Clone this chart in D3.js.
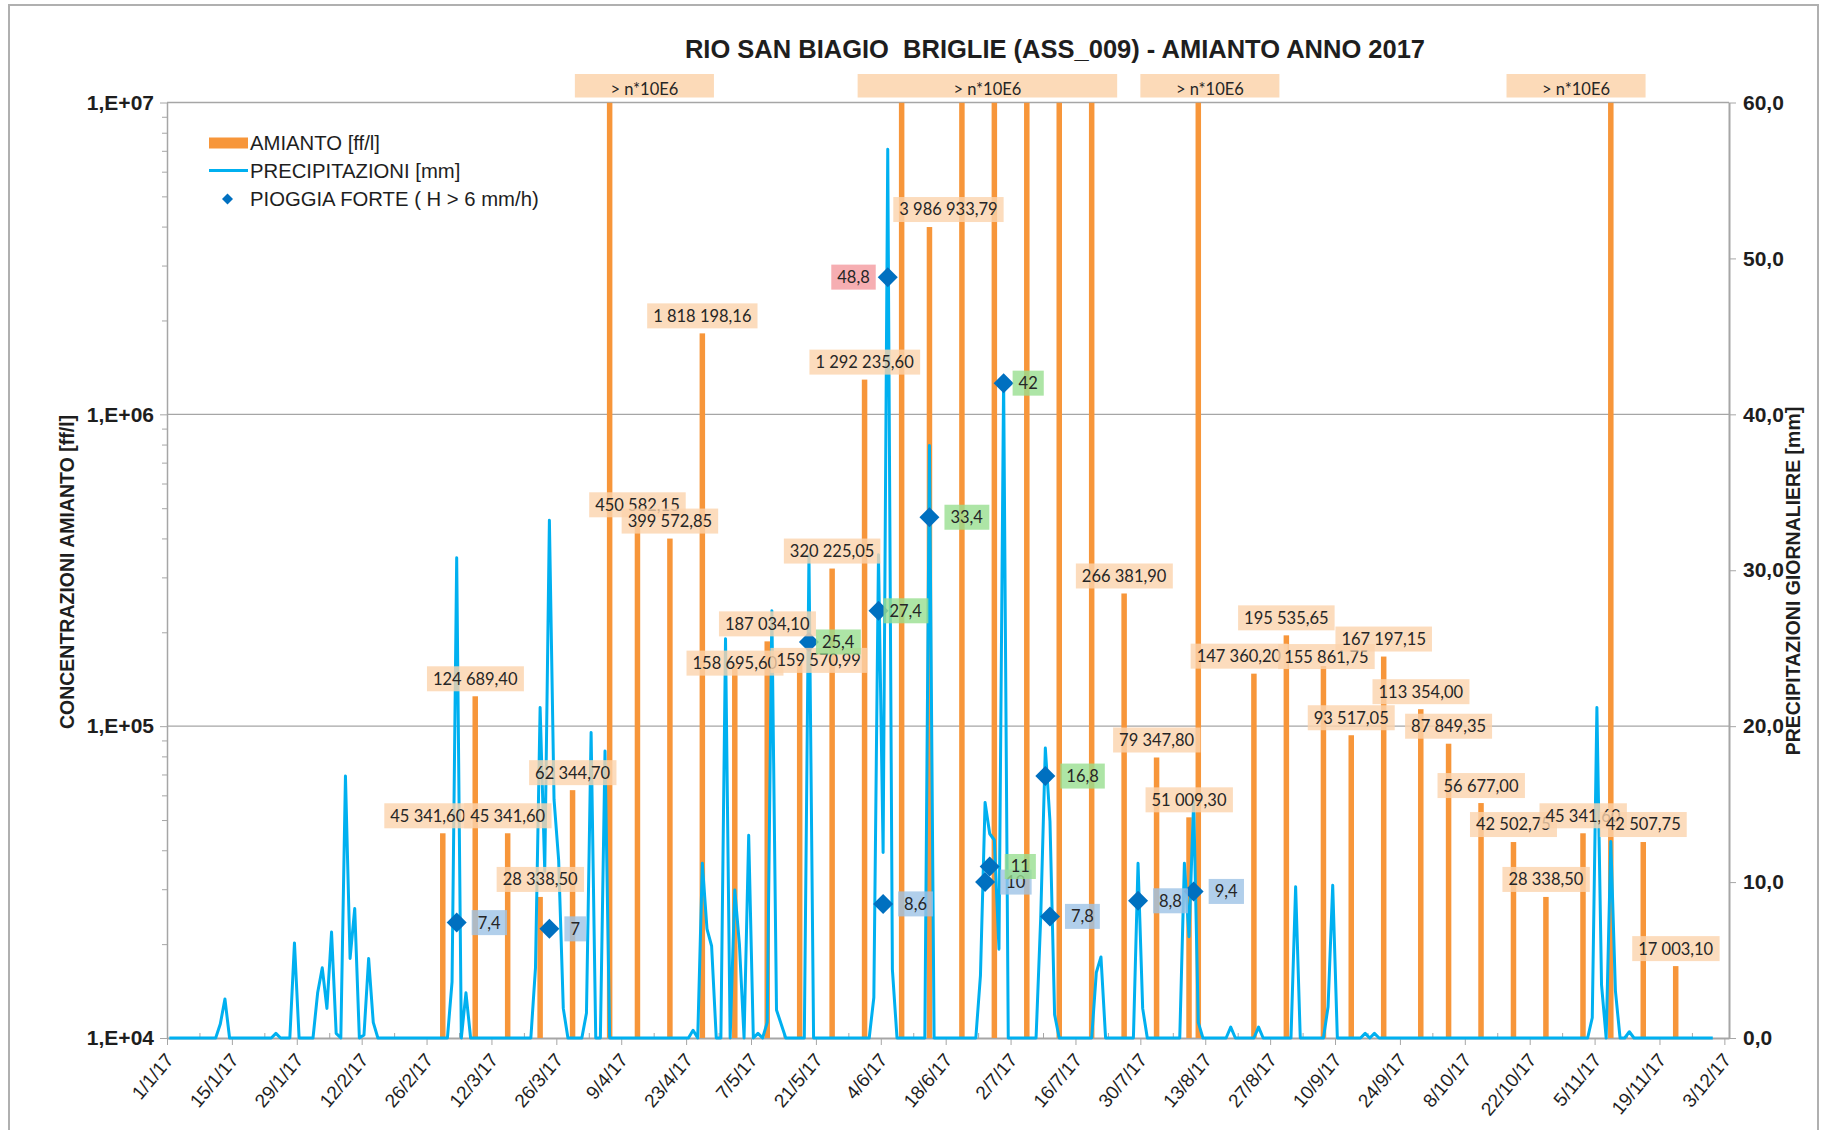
<!DOCTYPE html>
<html>
<head>
<meta charset="utf-8">
<script src="https://cdn.jsdelivr.net/npm/d3@7"></script>
<style>
  html, body { margin: 0; padding: 0; background: #fff; }
  svg { display: block; }
  .axis path, .axis line { stroke: #a6a6a6; }
</style>
</head>
<body>
<svg id="chart" width="1822" height="1130"></svg>
<script>
// ---------- data ----------
// weekly asbestos samples [ff/l]
const sampleDates = [
  "2017-03-01", "2017-03-08", "2017-03-15", "2017-03-22", "2017-03-29",
  "2017-04-12", "2017-04-19", "2017-04-26", "2017-05-03", "2017-05-10",
  "2017-05-17", "2017-05-24", "2017-05-31", "2017-06-14", "2017-07-26",
  "2017-08-02", "2017-08-09", "2017-08-23", "2017-08-30", "2017-09-07",
  "2017-09-13", "2017-09-20", "2017-09-28", "2017-10-04", "2017-10-11",
  "2017-10-18", "2017-10-25", "2017-11-02", "2017-11-15", "2017-11-22"
];
const amiantoValues = [
  45341.60, 124689.40, 45341.60, 28338.50, 62344.70,
  450582.15, 399572.85, 1818198.16, 158695.60, 187034.10,
  159570.99, 320225.05, 1292235.60, 3986933.79, 266381.90,
  79347.80, 51009.30, 147360.20, 195535.65, 155861.75,
  93517.05, 167197.15, 113354.00, 87849.35, 56677.00,
  42502.75, 28338.50, 45341.60, 42507.75, 17003.10
];
// samples above the top of the scale (> n*10E6)
const overLimitDates = [
  "2017-04-06", "2017-06-08", "2017-06-21", "2017-06-28", "2017-07-05",
  "2017-07-12", "2017-07-19", "2017-08-11", "2017-11-08"
];
const overLimitText = "> n*10E6";

// daily rainfall [mm], one value per day from rainStart
const rainStart = "2017-01-01";
const rainValues = [
  0, 0, 0, 0, 0, 0, 0, 0, 0, 0,
  0, 0.9, 2.5, 0, 0, 0, 0, 0, 0, 0,
  0, 0, 0, 0.3, 0, 0, 0, 6.1, 0, 0,
  0, 0, 2.9, 4.5, 1.9, 6.8, 0.3, 0, 16.8, 5.1,
  8.3, 0, 0.2, 5.1, 1.0, 0, 0, 0, 0, 0,
  0, 0, 0, 0, 0, 0, 0, 0, 0, 0,
  0, 3.6, 30.8, 0, 2.9, 0, 0, 0, 0, 0,
  0, 0, 0, 0, 0, 0, 0, 0, 0, 4.5,
  21.2, 10.7, 33.2, 15.3, 11.4, 1.9, 0, 0, 0, 0,
  1.6, 19.6, 0, 0, 18.4, 0, 0, 0, 0, 0,
  0, 0, 0, 0, 0, 0, 0, 0, 0, 0,
  0, 0, 0, 0.5, 0, 11.2, 7.0, 5.9, 0, 0,
  25.6, 0, 9.5, 6.0, 0, 13.0, 0, 0.3, 0, 1.0,
  27.4, 1.8, 0.9, 0, 0, 0, 0, 0, 31.0, 0,
  0, 0, 0, 0, 0, 0, 0, 0, 0, 0,
  0, 0, 2.6, 31.0, 11.9, 57.0, 4.4, 0, 0, 0,
  0, 0, 0, 0, 38.0, 0, 0, 0, 0, 0,
  0, 0, 0, 0, 0, 4.0, 15.1, 13.1, 12.7, 5.7,
  42.3, 0, 0, 0, 0, 0, 0, 0, 7.7, 18.6,
  13.9, 1.5, 0, 0, 0, 0, 0, 0, 0, 0,
  4.2, 5.2, 0, 0, 0, 0, 0, 0, 0, 11.2,
  1.9, 0, 0, 0, 0, 0, 0, 0, 0, 11.2,
  6.5, 15.2, 1.0, 0, 0, 0, 0, 0, 0, 0.7,
  0, 0, 0, 0, 0, 0.7, 0, 0, 0, 0,
  0, 0, 0, 9.7, 0, 0, 0, 0, 0, 0,
  2.0, 9.8, 0, 0, 0, 0, 0, 0, 0.3, 0,
  0.3, 0, 0, 0, 0, 0, 0, 0, 0, 0,
  0, 0, 0, 0, 0, 0, 0, 0, 0, 0,
  0, 0, 0, 0, 0, 0, 0, 0, 0, 0,
  0, 0, 0, 0, 0, 0, 0, 0, 0, 0,
  0, 0, 0, 0, 0, 0, 0, 1.3, 21.2, 3.4,
  0, 12.6, 3.0, 0, 0, 0.4, 0, 0, 0, 0,
  0, 0, 0, 0, 0, 0, 0, 0, 0, 0,
  0, 0, 0, 0
];

// heavy rain events (H > 6 mm/h)
const stormDates = [
  "2017-03-04", "2017-03-24", "2017-05-19", "2017-06-03", "2017-06-04",
  "2017-06-05", "2017-06-14", "2017-06-26", "2017-06-27", "2017-06-30",
  "2017-07-09", "2017-07-10", "2017-07-29", "2017-08-10"
];
const stormValues = [7.4, 7, 25.4, 27.4, 8.6, 48.8, 33.4, 10, 11, 42, 16.8, 7.8, 8.8, 9.4];

// axes
const xDomain = ["2017-01-01", "2017-12-04"];
const xTickStepDays = 14;
const xMinorStepDays = 7;
const yLeftTicks = [1e4, 1e5, 1e6, 1e7];
const yRightTicks = [0, 10, 20, 30, 40, 50, 60];

const titleText = "RIO SAN BIAGIO  BRIGLIE (ASS_009) - AMIANTO ANNO 2017";
const leftTitle = "CONCENTRAZIONI AMIANTO [ff/l]";
const rightTitle = "PRECIPITAZIONI GIORNALIERE [mm]";
const legendLabels = ["AMIANTO [ff/l]", "PRECIPITAZIONI [mm]", "PIOGGIA FORTE ( H > 6 mm/h)"];

// ---------- layout ----------
const plot = { left: 167, right: 1729, top: 102.5, bottom: 1038 };
const colors = {
  bar: "#F7963A", rain: "#00B0F0", storm: "#0070C0",
  grid: "#a6a6a6", text: "#1e1e1e",
  barTag: "#FBD3AC", blueTag: "#9DC3E6", greenTag: "#98DE90", redTag: "#F5A0A5"
};
// hand-placed label offsets (px) where labels would collide
const barTagNudge = {
  "2017-03-01": [-15, 0], "2017-05-03": [0, 17], "2017-05-17": [19, 15],
  "2017-06-14": [19, 0], "2017-08-23": [-15, 0], "2017-09-07": [3, 8]
};
const stormTagNudge = {
  "2017-06-05": "left", "2017-05-19": 7, "2017-06-03": 5, "2017-06-30": 9
};
// spans of the "> n*10E6" notes above the plot
const overNoteSpans = [
  ["2017-03-30", "2017-04-29"], ["2017-05-30", "2017-07-25"],
  ["2017-07-30", "2017-08-29"], ["2017-10-17", "2017-11-16"]
];

// ---------- scales ----------
const parse = d3.utcParse("%Y-%m-%d");
const DAY = 864e5;
const x = d3.scaleUtc().domain(xDomain.map(parse)).range([plot.left, plot.right]);
const xMid = d => x(new Date(d.getTime() + DAY / 2));
const yL = d3.scaleLog().domain([1e4, 1e7]).range([plot.bottom, plot.top]);
const yR = d3.scaleLinear().domain([0, 60]).range([plot.bottom, plot.top]);

const it = d3.formatLocale({ decimal: ",", thousands: " ", grouping: [3], currency: ["", " €"] });
const fmtBar = it.format(",.2f");
const fmtRight = it.format(".1f");
const fmtRain = it.format("~g");
const fmtDate = d3.utcFormat("%-d/%-m/%y");
const fmtLog = v => "1,E+" + String(Math.round(Math.log10(v))).padStart(2, "0");

const svg = d3.select("#chart");
const sans = "'Liberation Sans', Arial, sans-serif";

// outer frame
svg.append("rect")
  .attr("x", 9).attr("y", 5).attr("width", 1809).attr("height", 1160)
  .attr("fill", "#fff").attr("stroke", "#b0b0b0").attr("stroke-width", 2);

// title
svg.append("text")
  .attr("x", 1055).attr("y", 58).attr("text-anchor", "middle")
  .style("font-family", sans).style("white-space", "pre")
  .style("font-weight", "bold").style("font-size", "25.5px")
  .attr("fill", colors.text).text(titleText);

// clip for marks
svg.append("clipPath").attr("id", "plotClip").append("rect")
  .attr("x", plot.left).attr("y", plot.top)
  .attr("width", plot.right - plot.left).attr("height", plot.bottom - plot.top);

// horizontal gridlines
svg.append("g").selectAll("line").data(yLeftTicks.slice(1)).join("line")
  .attr("x1", plot.left).attr("x2", plot.right)
  .attr("y1", d => yL(d)).attr("y2", d => yL(d))
  .attr("stroke", colors.grid).attr("stroke-width", 1.3);

// left axis (log) with minor ticks
const minorLog = [];
for (let e = 4; e < 7; e++) for (let m = 2; m <= 9; m++) minorLog.push(m * Math.pow(10, e));
const axisFont = g => g.selectAll("text")
  .style("font-family", sans)
  .style("font-weight", "bold").style("font-size", "21px").attr("fill", colors.text);

svg.append("g").attr("class", "axis").attr("transform", `translate(${plot.left},0)`)
  .call(d3.axisLeft(yL).tickValues(minorLog).tickSize(5).tickFormat(""))
  .call(g => g.select(".domain").remove());
svg.append("g").attr("class", "axis").attr("transform", `translate(${plot.left},0)`)
  .call(d3.axisLeft(yL).tickValues(yLeftTicks).tickSize(7).tickPadding(6).tickFormat(fmtLog).tickSizeOuter(0))
  .call(g => g.select(".domain").attr("stroke-width", 1.5))
  .call(axisFont);

// right axis (rain)
svg.append("g").attr("class", "axis").attr("transform", `translate(${plot.right},0)`)
  .call(d3.axisRight(yR).tickValues(yRightTicks).tickSize(7).tickPadding(7).tickFormat(fmtRight).tickSizeOuter(0))
  .call(g => g.select(".domain").attr("stroke-width", 2))
  .call(axisFont);

// bottom date axis
const start = parse(xDomain[0]);
const lastTick = new Date(x.domain()[1].getTime() - DAY);
const majorTicks = d3.utcDay.range(start, new Date(lastTick.getTime() + 1), xTickStepDays);
const minorTicks = d3.utcDay.range(start, new Date(lastTick.getTime() + 1), xMinorStepDays)
  .filter(d => !majorTicks.some(m => +m === +d));

svg.append("g").attr("class", "axis").attr("transform", `translate(0,${plot.bottom})`)
  .call(d3.axisBottom(x).tickValues(minorTicks).tickSize(-5).tickFormat(""))
  .call(g => g.select(".domain").remove());
svg.append("g").attr("class", "axis").attr("transform", `translate(0,${plot.bottom})`)
  .call(d3.axisBottom(x).tickValues(majorTicks).tickSize(7).tickFormat(fmtDate).tickSizeOuter(0))
  .call(g => g.select(".domain").attr("stroke-width", 2))
  .call(g => g.selectAll("text")
    .style("font-family", sans)
    .style("font-size", "19px").attr("fill", colors.text)
    .attr("text-anchor", "end")
    .attr("dy", "0.35em").attr("y", 0)
    .attr("transform", "translate(2,18) rotate(-50)"));

// axis titles
svg.append("text")
  .attr("transform", "translate(74,572) rotate(-90)")
  .attr("text-anchor", "middle")
  .style("font-family", sans)
  .style("font-weight", "bold").style("font-size", "19.5px")
  .attr("fill", colors.text).text(leftTitle);
svg.append("text")
  .attr("transform", "translate(1800,581) rotate(-90)")
  .attr("text-anchor", "middle")
  .style("font-family", sans)
  .style("font-weight", "bold").style("font-size", "19.5px")
  .attr("fill", colors.text).text(rightTitle);

// ---------- marks ----------
const marks = svg.append("g").attr("clip-path", "url(#plotClip)");
const barW = 5.5;
const samples = sampleDates.map((d, i) => ({ key: d, date: parse(d), value: amiantoValues[i] }));
const overs = overLimitDates.map(d => ({ key: d, date: parse(d) }));

marks.append("g").selectAll("rect").data(samples).join("rect")
  .attr("x", d => xMid(d.date) - barW / 2).attr("width", barW)
  .attr("y", d => yL(d.value)).attr("height", d => plot.bottom - yL(d.value))
  .attr("fill", colors.bar);
marks.append("g").selectAll("rect").data(overs).join("rect")
  .attr("x", d => xMid(d.date) - barW / 2).attr("width", barW)
  .attr("y", plot.top).attr("height", plot.bottom - plot.top)
  .attr("fill", colors.bar);

// rainfall line
const rain0 = parse(rainStart);
const rainPts = rainValues.map((v, i) => ({ date: new Date(rain0.getTime() + i * DAY), value: v }));
svg.append("path").datum(rainPts)
  .attr("d", d3.line().x(d => xMid(d.date)).y(d => yR(d.value)))
  .attr("fill", "none").attr("stroke", colors.rain)
  .attr("stroke-width", 3).attr("stroke-linejoin", "round");

// heavy rain diamonds
const storms = stormDates.map((d, i) => ({ key: d, date: parse(d), value: stormValues[i] }));
const diamond = r => `M0,${-r}L${r},0L0,${r}L${-r},0Z`;
svg.append("g").selectAll("path").data(storms).join("path")
  .attr("d", diamond(10))
  .attr("transform", d => `translate(${xMid(d.date)},${yR(d.value)})`)
  .attr("fill", colors.storm);

// ---------- labels ----------
const tagFont = "'Lato', 'Open Sans', sans-serif";
const tagH = 25, padX = 6;
const tags = svg.append("g");
function tag(text, xPos, yMid, anchor, fill, opacity) {
  const g = tags.append("g");
  const r = g.append("rect");
  const t = g.append("text")
    .attr("x", xPos).attr("y", yMid).attr("dy", "0.36em")
    .attr("text-anchor", anchor)
    .style("font-family", tagFont).style("font-size", "16.5px")
    .attr("fill", "#262626").text(text);
  const bb = t.node().getBBox();
  r.attr("x", bb.x - padX).attr("y", yMid - tagH / 2)
    .attr("width", bb.width + 2 * padX).attr("height", tagH)
    .attr("fill", fill).attr("fill-opacity", opacity);
}

samples.forEach(d => {
  const [dx, dy] = barTagNudge[d.key] || [0, 0];
  tag(fmtBar(d.value), xMid(d.date) + dx, yL(d.value) - 5 - tagH / 2 + dy, "middle", colors.barTag, 0.8);
});

storms.forEach(d => {
  const cx = xMid(d.date), cy = yR(d.value);
  const fill = d.value > 45 ? colors.redTag : d.value > 10 ? colors.greenTag : colors.blueTag;
  const n = stormTagNudge[d.key];
  if (n === "left") tag(fmtRain(d.value), cx - 12 - padX, cy, "end", fill, 0.85);
  else tag(fmtRain(d.value), cx + (n == null ? 15 : n) + padX, cy, "start", fill, 0.8);
});

// "> n*10E6" notes above the plot
const notes = svg.append("g");
overNoteSpans.forEach(([a, b]) => {
  const x0 = x(parse(a)), x1 = x(parse(b));
  notes.append("rect").attr("x", x0).attr("y", 74).attr("width", x1 - x0).attr("height", 23.5)
    .attr("fill", colors.barTag).attr("fill-opacity", 0.85);
  notes.append("text").attr("x", (x0 + x1) / 2).attr("y", 95).attr("text-anchor", "middle")
    .style("font-family", tagFont).style("font-size", "16.5px")
    .attr("fill", "#262626").text(overLimitText);
});

// ---------- legend ----------
const lg = svg.append("g").style("font-family", sans).style("font-size", "20.3px");
const rowY = [143, 170.5, 199];
lg.append("rect").attr("x", 209).attr("y", rowY[0] - 5.5).attr("width", 39).attr("height", 11).attr("fill", colors.bar);
lg.append("line").attr("x1", 209).attr("x2", 248).attr("y1", rowY[1]).attr("y2", rowY[1])
  .attr("stroke", colors.rain).attr("stroke-width", 3);
lg.append("path").attr("d", diamond(5.5)).attr("transform", `translate(227.5,${rowY[2]})`).attr("fill", colors.storm);
legendLabels.forEach((t, i) => {
  lg.append("text").attr("x", 250).attr("y", rowY[i]).attr("dy", "0.36em")
    .attr("fill", colors.text).text(t);
});
</script>
</body>
</html>
